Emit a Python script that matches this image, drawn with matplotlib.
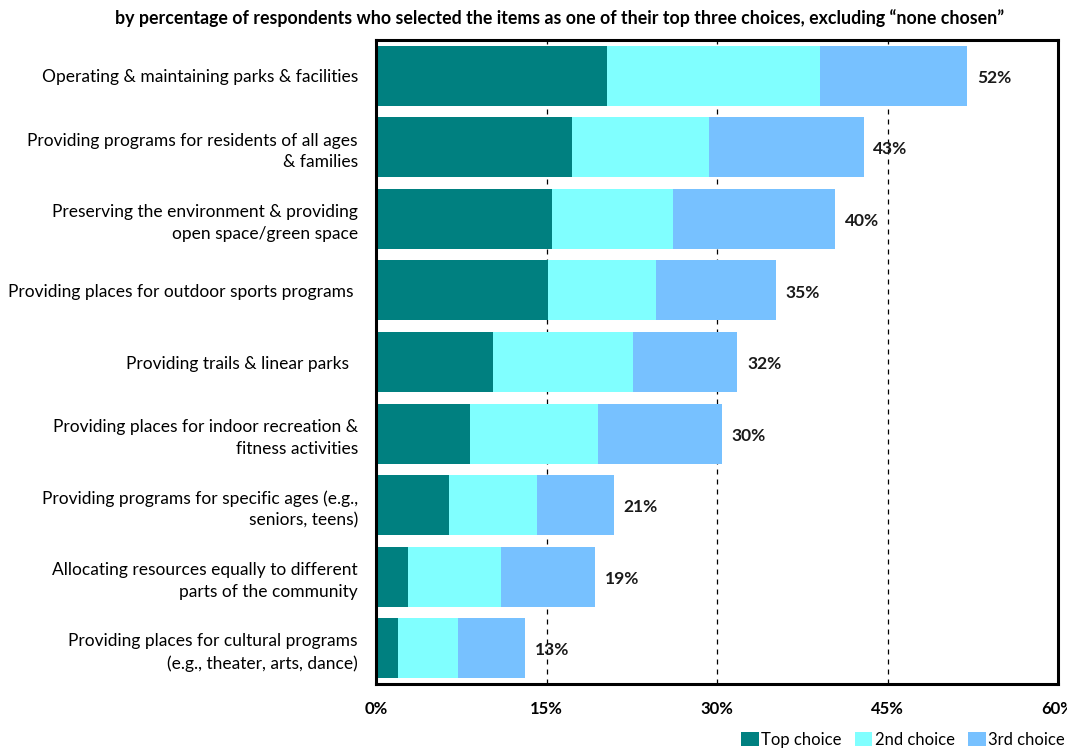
import matplotlib
matplotlib.use("Agg")
import matplotlib.pyplot as plt
from matplotlib.patches import Patch

plt.rcParams['font.family'] = ['Lato', 'DejaVu Sans']

categories = [
    "Operating & maintaining parks & facilities",
    "Providing programs for residents of all ages\n& families",
    "Preserving the environment & providing\nopen space/green space",
    "Providing places for outdoor sports programs ",
    "Providing trails & linear parks  ",
    "Providing places for indoor recreation &\nfitness activities",
    "Providing programs for specific ages (e.g.,\nseniors, teens)",
    "Allocating resources equally to different\nparts of the community",
    "Providing places for cultural programs\n(e.g., theater, arts, dance)",
]
top_choice = [20.3, 17.2, 15.5, 15.1, 10.3, 8.3, 6.4, 2.8, 1.9]
second_choice = [18.8, 12.1, 10.6, 9.5, 12.3, 11.2, 7.8, 8.2, 5.3]
third_choice = [12.9, 13.6, 14.3, 10.6, 9.2, 10.9, 6.7, 8.3, 5.9]
series_names = ["Top choice", "2nd choice", "3rd choice"]
colors = ["#008080", "#80FFFF", "#77C1FF"]
xticks = [0, 15, 30, 45, 60]

title = ("by percentage of respondents who selected the items as one of their "
         "top three choices, excluding \u201cnone chosen\u201d")

fig = plt.figure(figsize=(10.67, 7.48), dpi=100)
ax = fig.add_axes([376 / 1067, 1 - 684 / 748, (1058 - 376) / 1067, (684 - 40) / 748])

ypos = list(range(len(categories)))
left = [0.0] * len(categories)
for vals, col, name in zip([top_choice, second_choice, third_choice], colors, series_names):
    ax.barh(ypos, vals, left=left, height=0.84, color=col, label=name, zorder=2)
    left = [l + v for l, v in zip(left, vals)]

for y, total in zip(ypos, left):
    ax.text(total + 0.85, y + 0.03, f"{round(total):d}%", va="center", ha="left",
            fontsize=12.5, fontweight="bold", color="#1a1a1a", zorder=3)

ax.set_xlim(0, 60)
ax.set_ylim(len(categories) - 0.5, -0.5)
ax.set_xticks(xticks)
ax.set_xticklabels([f"{t}%" for t in xticks], fontsize=12, fontweight="bold")
ax.set_yticks(ypos)
ax.set_yticklabels(categories, fontsize=12.5, linespacing=1.42)
ax.tick_params(axis="both", length=0)
ax.tick_params(axis="y", pad=13)
ax.tick_params(axis="x", pad=12)

for t in xticks[1:-1]:
    ax.axvline(t, color="black", linestyle=(0, (4, 4)), linewidth=0.9, zorder=1)

for s in ax.spines.values():
    s.set_linewidth(2.2)
    s.set_color("black")

fig.text(560 / 1067, 1 - 18 / 748, title, ha="center", va="center",
         fontsize=12.8, fontweight="bold")

handles = [Patch(facecolor=c, edgecolor="none") for c in colors]
fig.legend(handles, series_names, loc="center left", bbox_to_anchor=(741 / 1067, 1 - 740 / 748),
           ncol=3, frameon=False, fontsize=12, handlelength=1.05, handleheight=0.95,
           handletextpad=0.15, columnspacing=0.8, borderaxespad=0, borderpad=0)

fig.savefig("out.png", dpi=100)
